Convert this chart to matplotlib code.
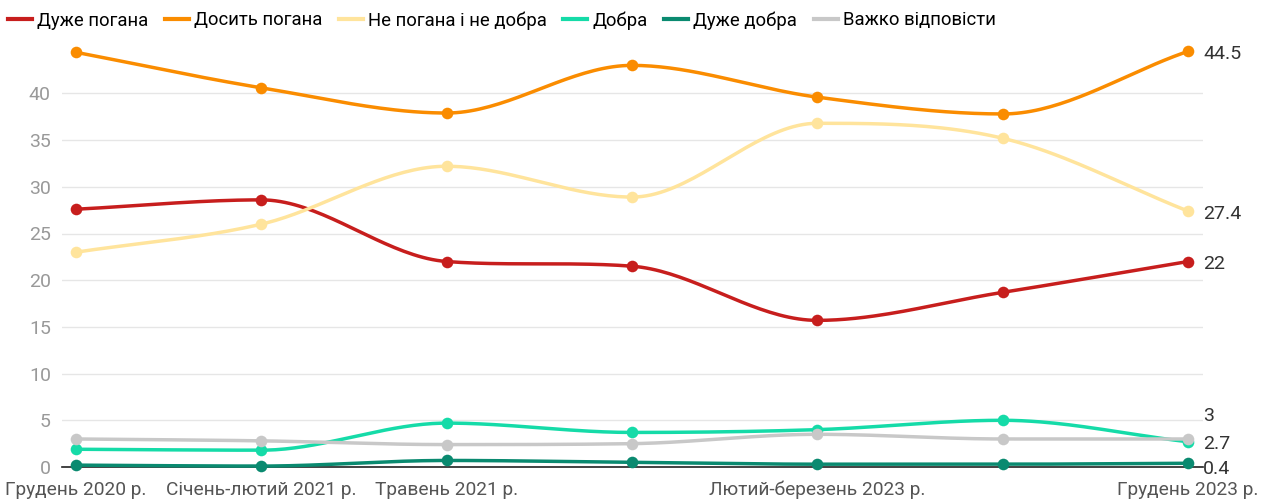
import matplotlib
matplotlib.use("Agg")
import matplotlib.pyplot as plt
import numpy as np

plt.rcParams['font.family'] = ['Roboto', 'DejaVu Sans']

periods = ["Грудень 2020 р.", "Січень-лютий 2021 р.", "Травень 2021 р.", "Жовтень 2022 р.",
           "Лютий-березень 2023 р.", "Травень 2023 р.", "Грудень 2023 р."]
shown_ticks = [0, 1, 2, 4, 6]

very_bad = [27.6, 28.6, 22.0, 21.5, 15.7, 18.7, 22.0]
rather_bad = [44.4, 40.6, 37.9, 43.0, 39.6, 37.8, 44.5]
neither = [23.0, 26.0, 32.2, 28.9, 36.8, 35.2, 27.4]
good = [1.9, 1.8, 4.7, 3.7, 4.0, 5.0, 2.7]
very_good = [0.2, 0.1, 0.7, 0.5, 0.3, 0.3, 0.4]
hard_to_say = [3.0, 2.8, 2.4, 2.5, 3.5, 3.0, 3.0]

series = [
    ("Дуже погана", very_bad, "#c71e1d"),
    ("Досить погана", rather_bad, "#fa8c00"),
    ("Не погана і не добра", neither, "#ffe49c"),
    ("Добра", good, "#15dba8"),
    ("Дуже добра", very_good, "#0a8a70"),
    ("Важко відповісти", hard_to_say, "#c8c8c8"),
]
# vertical shifts (pixels) of the end labels so they don't overlap
end_offsets = {"Дуже погана": -2, "Досить погана": -3, "Не погана і не добра": -3,
               "Добра": -2, "Дуже добра": -6, "Важко відповісти": 23}


def monotone(x, y, n=40):
    # monotone cubic (Fritsch-Carlson), like d3.curveMonotoneX
    x = np.asarray(x, float)
    y = np.asarray(y, float)
    h = np.diff(x)
    d = np.diff(y) / h
    m = np.zeros_like(y)
    m[0], m[-1] = d[0], d[-1]
    for i in range(1, len(y) - 1):
        if d[i - 1] * d[i] <= 0:
            m[i] = 0
        else:
            m[i] = (h[i - 1] * d[i] + h[i] * d[i - 1]) / (h[i - 1] + h[i])
            m[i] = np.sign(m[i]) * min(abs(m[i]), 3 * min(abs(d[i - 1]), abs(d[i])))
    xs, ys = [], []
    for i in range(len(x) - 1):
        t = np.linspace(0, 1, n)
        h00 = 2 * t**3 - 3 * t**2 + 1
        h10 = t**3 - 2 * t**2 + t
        h01 = -2 * t**3 + 3 * t**2
        h11 = t**3 - t**2
        xs.append(x[i] + t * h[i])
        ys.append(h00 * y[i] + h10 * h[i] * m[i] + h01 * y[i + 1] + h11 * h[i] * m[i + 1])
    return np.concatenate(xs), np.concatenate(ys)


fig = plt.figure(figsize=(12.72, 5), dpi=100)
ax = fig.add_axes([62 / 1272, 1 - 467 / 500, (1203 - 62) / 1272, (467 - 46.7) / 500])

px = 0.72  # points per pixel at dpi 100
xs = np.arange(len(periods))
for name, vals, col in series:
    sx, sy = monotone(xs, vals)
    ax.plot(sx, sy, color=col, lw=2.5, solid_capstyle="round", clip_on=False, zorder=3)
    ax.scatter(xs, vals, s=70, color=col, zorder=4, clip_on=False, linewidths=0)
    ax.annotate(f"{vals[-1]:g}", (xs[-1], vals[-1]), xycoords="data",
                xytext=(15 * px, end_offsets[name] * px), textcoords="offset points",
                ha="left", va="center", fontsize=14, color="#333333", annotation_clip=False)

ax.set_xlim(-0.0755, 6.081)
ax.set_ylim(0, 45)
ax.set_yticks(np.arange(0, 45, 5))
ax.set_xticks([xs[i] for i in shown_ticks])
ax.set_xticklabels([periods[i] for i in shown_ticks])
ax.tick_params(axis="y", length=0, pad=8, labelsize=14, labelcolor="#999999")
ax.tick_params(axis="x", length=0, pad=10, labelsize=13.8, labelcolor="#555555")
ax.grid(axis="y", color="#e6e6e6", lw=1)
ax.set_axisbelow(True)
for s in ["top", "right", "left"]:
    ax.spines[s].set_visible(False)
ax.spines["bottom"].set_color("#222222")
ax.spines["bottom"].set_linewidth(1.2)
ax.spines["bottom"].set_zorder(2)

handles = [plt.Line2D([], [], color=c, lw=3) for _, _, c in series]
fig.legend(handles, [n for n, _, _ in series], loc="upper left",
           bbox_to_anchor=(8 / 1272, 1 - 11 / 500), ncol=6, frameon=False, fontsize=13.3,
           handlelength=1.3, handletextpad=0.27, columnspacing=0.9,
           borderpad=0, borderaxespad=0)

fig.savefig("out.png", dpi=100)
